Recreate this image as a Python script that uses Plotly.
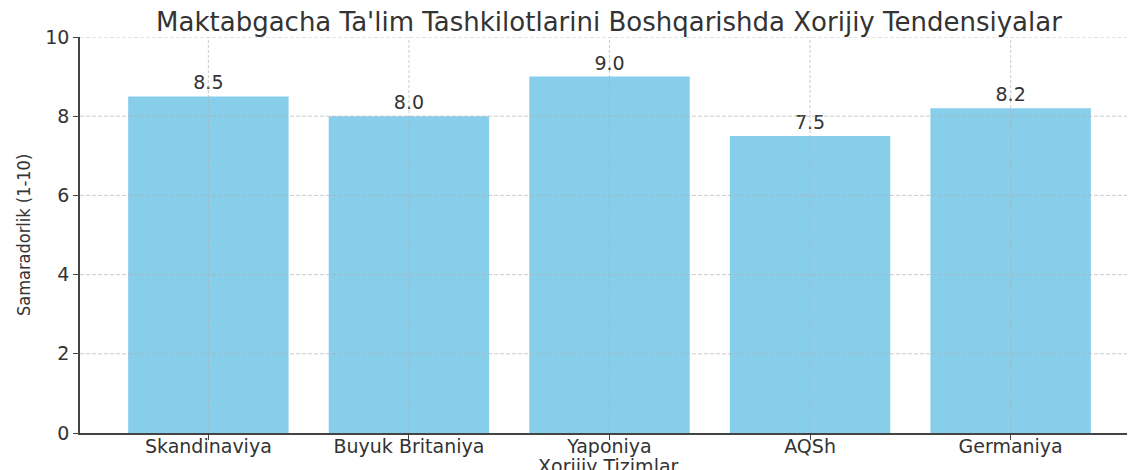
import plotly.graph_objects as go

categories = ["Skandinaviya", "Buyuk Britaniya", "Yaponiya", "AQSh", "Germaniya"]
values = [8.5, 8.0, 9.0, 7.5, 8.2]
value_labels = ["8.5", "8.0", "9.0", "7.5", "8.2"]
y_ticks = [0, 2, 4, 6, 8, 10]

title_text = "Maktabgacha Ta'lim Tashkilotlarini Boshqarishda Xorijiy Tendensiyalar"
x_title = "Xorijiy Tizimlar"
y_title = "Samaradorlik (1-10)"

FONT = "DejaVu Sans, Verdana, sans-serif"
TXT = "#333333"
GRID = "rgba(176,176,176,0.65)"

# page body has an 8px margin; compensate so the plot lands where the reference has it
OFF = 8
W, H = 1135, 470
L, T, PH = 80 - OFF, 37 - OFF, 396

fig = go.Figure()
fig.add_trace(go.Bar(
    x=categories, y=values, width=0.8,
    marker=dict(color="#87CEEB", line=dict(width=0)),
    text=value_labels, textposition="outside",
    textfont=dict(family=FONT, size=19, color=TXT),
    cliponaxis=False,
))

shapes = []
for t in y_ticks[1:]:
    shapes.append(dict(type="line", xref="paper", x0=0, x1=1, yref="y", y0=t, y1=t,
                       line=dict(color=GRID, width=1, dash="4px,2px"), layer="above"))
for c in categories:
    shapes.append(dict(type="line", xref="x", x0=c, x1=c, yref="paper", y0=0, y1=1,
                       line=dict(color=GRID, width=1, dash="3px,2px"), layer="above"))

PW = W - L
fig.update_layout(
    width=W, height=H,
    margin=dict(l=L, r=0, t=T, b=H - T - PH, autoexpand=False),
    paper_bgcolor="white", plot_bgcolor="white",
    showlegend=False,
    bargap=0.2,
    font=dict(family=FONT, color=TXT),
    title=dict(text=title_text, x=(609 - OFF) / W, xanchor="center", y=1 - (22 - OFF) / H, yanchor="middle",
               font=dict(family=FONT, size=26, color=TXT)),
    shapes=shapes,
    annotations=[
        dict(text=x_title, xref="paper", yref="paper", x=(608 - 80) / PW, y=(433 - 466) / PH,
             xanchor="center", yanchor="middle", showarrow=False,
             font=dict(family=FONT, size=19, color=TXT)),
        dict(text=y_title, xref="paper", yref="paper", x=(23 - 80) / PW, y=0.5,
             xanchor="center", yanchor="middle", showarrow=False, textangle=-90,
             font=dict(family="DejaVu Sans Condensed, Liberation Sans Narrow, sans-serif", size=18, color=TXT)),
    ],
)
fig.update_xaxes(
    range=[-0.64, 4.66], showgrid=False, showline=True, linecolor="#444444", linewidth=1.5,
    ticks="outside", ticklen=5, tickcolor="#444444", tickwidth=1.2, automargin=False,
    ticklabelstandoff=-10,
    tickfont=dict(family=FONT, size=19, color=TXT), zeroline=False,
)
fig.update_yaxes(
    range=[0, 10], tickvals=y_ticks, showgrid=False, showline=True, linecolor="#444444", linewidth=1.5,
    ticks="outside", ticklen=5, tickcolor="#444444", tickwidth=1.2, automargin=False,
    tickfont=dict(family=FONT, size=19, color=TXT), zeroline=False,
)

fig.write_html("out.html")
